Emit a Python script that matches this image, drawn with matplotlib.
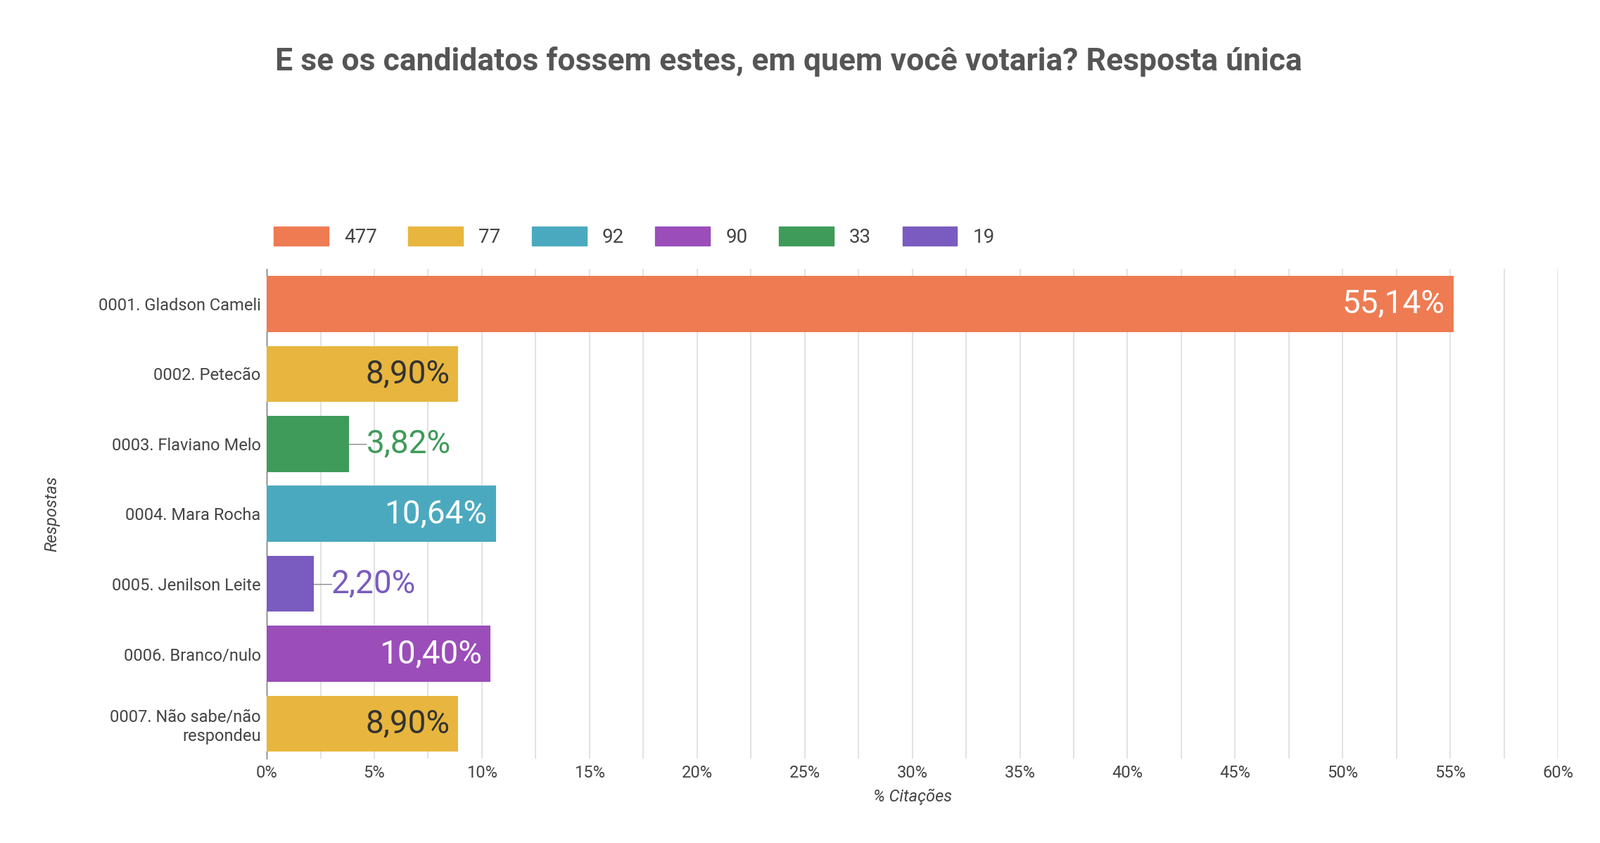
import matplotlib

matplotlib.use("Agg")
import matplotlib.pyplot as plt
import numpy as np

plt.rcParams["font.family"] = "Roboto"

answers = [
    "0001. Gladson Cameli",
    "0002. Petecão",
    "0003. Flaviano Melo",
    "0004. Mara Rocha",
    "0005. Jenilson Leite",
    "0006. Branco/nulo",
    "0007. Não sabe/não\nrespondeu",
]
percents = [55.14, 8.90, 3.82, 10.64, 2.20, 10.40, 8.90]
bar_colors = ["#EE7B52", "#E8B63E", "#3F9B5A", "#4BA9BF", "#7A5BBF", "#9B4DB9", "#E8B63E"]
label_colors = ["white", "#333333", None, "white", None, "white", "#333333"]
legend_labels = ["477", "77", "92", "90", "33", "19"]
legend_colors = ["#EE7B52", "#E8B63E", "#4BA9BF", "#9B4DB9", "#3F9B5A", "#7A5BBF"]
x_ticks = np.arange(0, 61, 5)

fig = plt.figure(figsize=(22.74, 11.98), dpi=100)
ax = fig.add_axes([0.1667, 0.1, 0.807, 0.581])
y = np.arange(len(answers))
ax.barh(y, percents, height=0.8, color=bar_colors, zorder=3)
ax.set_ylim(len(answers) - 0.5, -0.5)
ax.set_xlim(0, 60)
ax.set_xticks(x_ticks)
ax.set_xticklabels([f"{t}%" for t in x_ticks], fontsize=17, color="#444444")
ax.set_xticks(np.arange(0, 61, 2.5), minor=True)
ax.set_yticks(y)
ax.set_yticklabels(answers, fontsize=17, color="#444444")
ax.tick_params(length=0, which="both", pad=6)
ax.grid(axis="x", which="both", color="#e3e3e3", linewidth=1.5, zorder=0)
for side in ["top", "right", "bottom"]:
    ax.spines[side].set_visible(False)
ax.spines["left"].set_color("#555555")
ax.set_xlabel("% Citações", fontsize=17, style="italic", color="#444444", labelpad=8)
ax.set_ylabel("Respostas", fontsize=17, style="italic", color="#444444", labelpad=10)
ax.yaxis.set_label_coords(-0.16, 0.5)

for i, (v, lc, bc) in enumerate(zip(percents, label_colors, bar_colors)):
    txt = f"{v:.2f}%".replace(".", ",")
    if lc is not None:
        ax.text(v - 0.4, i, txt, ha="right", va="center", fontsize=33, color=lc, zorder=4)
    else:
        ax.plot([v, v + 0.8], [i, i], color="#888888", linewidth=1, zorder=4)
        ax.text(v + 0.8, i, txt, ha="left", va="center", fontsize=33, color=bc, zorder=4)

handles = [plt.Rectangle((0, 0), 1, 1, color=c) for c in legend_colors]
fig.legend(handles, legend_labels, loc="center left", bbox_to_anchor=(0.16, 0.719), ncol=6,
           frameon=False, fontsize=20, handlelength=2.8, handleheight=1.1, columnspacing=1.6,
           labelcolor="#444444")

fig.suptitle("E se os candidatos fossem estes, em quem você votaria? Resposta única",
             x=0.493, y=0.945, fontsize=32, fontweight="bold", color="#555555")
fig.savefig("out.png")
